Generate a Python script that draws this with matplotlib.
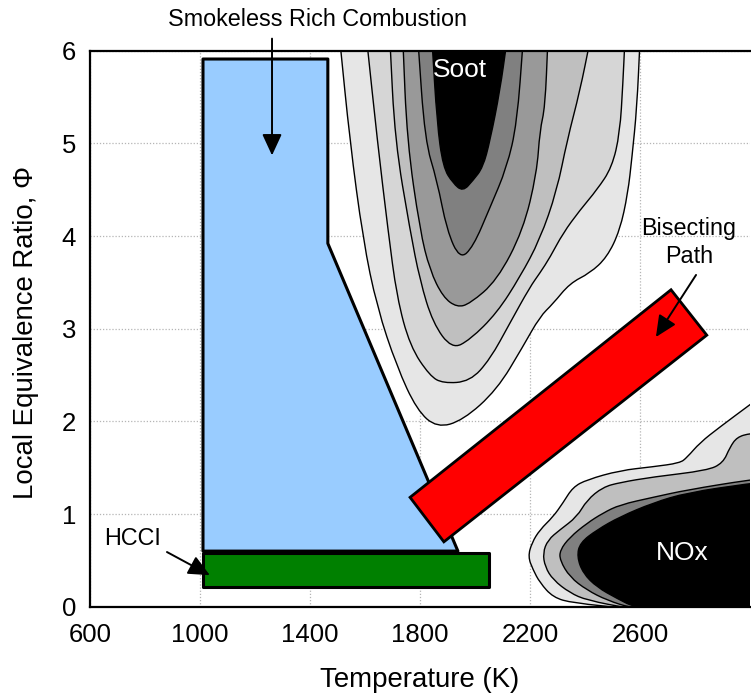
"""
Combustion regimes in the temperature / equivalence-ratio plane.
"""
import matplotlib.pyplot as plt
from matplotlib.path import Path
from matplotlib.patches import PathPatch

plt.rcParams['font.family'] = ['Liberation Sans', 'DejaVu Sans']

# Soot island contours, outermost to innermost (T in K, local phi)
soot_1_T = [1509, 1545, 1593, 1644, 1716, 1789, 1862, 1956, 2080, 2175,
            2236, 2284, 2345, 2418, 2480, 2527, 2556, 2571, 2589, 2600]
soot_1_phi = [6.1, 5.03, 3.96, 3.23, 2.59, 2.12, 1.93, 2.01, 2.34, 2.81,
              3.13, 3.27, 3.49, 3.60, 3.77, 4.06, 4.46, 4.85, 5.39, 6.1]
soot_2_T = [1607, 1645, 1684, 1716, 1764, 1836, 1884, 1982, 2055, 2127,
            2200, 2236, 2273, 2320, 2382, 2444, 2498, 2527, 2538, 2545]
soot_2_phi = [6.1, 5.03, 4.06, 3.34, 2.81, 2.49, 2.41, 2.43, 2.67, 3.06,
              3.45, 3.60, 3.77, 4.03, 4.28, 4.50, 4.74, 5.11, 5.65, 6.1]
soot_3_T = [1691, 1709, 1764, 1800, 1847, 1916, 1982, 2080, 2164, 2236,
            2298, 2335, 2382, 2418]
soot_3_phi = [6.1, 5.03, 4.06, 3.52, 3.06, 2.78, 2.88, 3.17, 3.56, 3.96,
              4.49, 5.03, 5.57, 6.1]
soot_4_T = [1738, 1753, 1800, 1836, 1884, 1935, 1982, 2080, 2175, 2225,
            2236, 2255, 2265]
soot_4_phi = [6.1, 5.03, 4.06, 3.63, 3.34, 3.23, 3.27, 3.52, 4.06, 4.68,
              5.14, 5.39, 6.1]
soot_5_T = [1793, 1818, 1862, 1898, 1945, 1993, 2055, 2116, 2153, 2175]
soot_5_phi = [6.1, 5.03, 4.60, 4.06, 3.75, 3.88, 4.31, 4.74, 5.22, 6.1]
soot_6_T = [1844, 1862, 1884, 1920, 1956, 1993, 2029, 2055, 2091, 2116]
soot_6_phi = [6.1, 5.22, 4.74, 4.57, 4.48, 4.60, 4.74, 5.03, 5.57, 6.1]

# NOx contours, outermost to innermost
nox_1_T = [3100, 3000, 2891, 2818, 2771, 2745, 2647, 2527, 2407, 2356, 2320,
           2284, 2236, 2207, 2193, 2211, 2236, 2284, 2356, 2564, 3100]
nox_1_phi = [2.4, 2.18, 1.94, 1.77, 1.61, 1.55, 1.51, 1.47, 1.37, 1.29, 1.12,
             0.97, 0.83, 0.69, 0.54, 0.40, 0.26, 0.10, 0.04, -0.02, -0.3]
nox_2_T = [3100, 3000, 2953, 2927, 2902, 2844, 2647, 2527, 2465, 2407,
           2371, 2309, 2265, 2247, 2255, 2284, 2345, 2407, 2564, 3100]
nox_2_phi = [1.9, 1.87, 1.83, 1.72, 1.55, 1.47, 1.40, 1.34, 1.29, 1.15,
             0.97, 0.83, 0.72, 0.58, 0.43, 0.29, 0.15, 0.07, -0.02, -0.3]
nox_3_T = [3100, 3000, 2771, 2647, 2527, 2465, 2407, 2345, 2309, 2309,
           2345, 2407, 2480, 2575, 3100]
nox_3_phi = [1.4, 1.37, 1.26, 1.18, 1.10, 1.01, 0.90, 0.75, 0.61, 0.50,
             0.32, 0.18, 0.07, -0.02, -0.3]
nox_4_T = [3100, 3000, 2771, 2647, 2527, 2444, 2382, 2371, 2393, 2444,
           2516, 2589, 3100]
nox_4_phi = [1.36, 1.33, 1.23, 1.12, 0.97, 0.83, 0.69, 0.54, 0.36, 0.21,
             0.09, -0.02, -0.3]

# Combustion regime regions
rich_T = [1011, 1011, 1465, 1465, 1938]
rich_phi = [0.6, 5.91, 5.91, 3.92, 0.6]
hcci_T = [1011, 1011, 2051, 2051]
hcci_phi = [0.21, 0.58, 0.58, 0.21]
path_T = [1764, 2713, 2843, 1887]
path_phi = [1.18, 3.42, 2.93, 0.70]

x_ticks = [600, 1000, 1400, 1800, 2200, 2600]
y_ticks = [0, 1, 2, 3, 4, 5, 6]

soot_levels = [(soot_1_T, soot_1_phi, '#e6e6e6'),
               (soot_2_T, soot_2_phi, '#d6d6d6'),
               (soot_3_T, soot_3_phi, '#bfbfbf'),
               (soot_4_T, soot_4_phi, '#999999'),
               (soot_5_T, soot_5_phi, '#808080'),
               (soot_6_T, soot_6_phi, '#000000')]
nox_levels = [(nox_1_T, nox_1_phi, '#e6e6e6'),
              (nox_2_T, nox_2_phi, '#bfbfbf'),
              (nox_3_T, nox_3_phi, '#808080'),
              (nox_4_T, nox_4_phi, '#000000')]


def contour_patch(T, phi, shade):
    """
    Patch through the read contour points. Interior points are joined with
    quadratic curves between segment midpoints so the outline looks smooth;
    the first and last points (outside the axes) stay sharp corners.
    """
    pts = list(zip(T, phi))
    n = len(pts)
    mids = [((pts[i][0] + pts[i + 1][0]) / 2,
             (pts[i][1] + pts[i + 1][1]) / 2) for i in range(n - 1)]
    verts = [pts[0], mids[0]]
    codes = [Path.MOVETO, Path.LINETO]
    for i in range(1, n - 1):
        verts += [pts[i], mids[i]]
        codes += [Path.CURVE3, Path.CURVE3]
    verts += [pts[-1], pts[0]]
    codes += [Path.LINETO, Path.CLOSEPOLY]
    return PathPatch(Path(verts, codes), facecolor=shade, edgecolor='black',
                     lw=1.0, zorder=2)


fig = plt.figure(figsize=(7.51, 6.98), dpi=100)
ax = fig.add_axes([0.1198, 0.1308, 0.8788, 0.7966])

for T, phi, shade in soot_levels + nox_levels:
    ax.add_patch(contour_patch(T, phi, shade))

ax.fill(rich_T, rich_phi, facecolor='#99ccff', edgecolor='black', lw=2.2,
        joinstyle='round', zorder=3)
ax.fill(hcci_T, hcci_phi, facecolor='#008000', edgecolor='black', lw=2.2,
        joinstyle='round', zorder=4)
ax.fill(path_T, path_phi, facecolor='#ff0000', edgecolor='black', lw=2.0,
        zorder=4)

# Labels and arrows
arrow = dict(arrowstyle='-|>,head_length=0.65,head_width=0.3',
             mutation_scale=20, color='black', lw=1.4, shrinkA=0, shrinkB=0)
ax.text(1429, 6.34, 'Smokeless Rich Combustion', fontsize=16.8,
        ha='center', va='center')
ax.annotate('', xy=(1262, 4.87), xytext=(1262, 6.13), arrowprops=arrow,
            zorder=6, annotation_clip=False)
ax.text(756, 0.74, 'HCCI', fontsize=16.8, ha='center', va='center')
ax.annotate('', xy=(1036, 0.34), xytext=(880, 0.59), arrowprops=arrow,
            zorder=6)
ax.text(2778, 3.93, 'Bisecting\nPath', fontsize=16.8, ha='center',
        va='center', linespacing=1.25)
ax.annotate('', xy=(2658, 2.91), xytext=(2804, 3.58), arrowprops=arrow,
            zorder=6)
ax.text(1945, 5.79, 'Soot', fontsize=19, color='white', ha='center',
        va='center', zorder=5)
ax.text(2752, 0.58, 'NOx', fontsize=19, color='white', ha='center',
        va='center', zorder=5)

# Axes
ax.set_xlim(600, 3000)
ax.set_ylim(0, 6)
ax.set_xticks(x_ticks)
ax.set_yticks(y_ticks)
ax.tick_params(length=0, labelsize=18.5)
ax.tick_params(axis='x', pad=12)
ax.tick_params(axis='y', pad=10)
ax.grid(True, linestyle=(0, (1, 1.5)), color='#b5b5b5', lw=0.9)
ax.set_axisbelow(True)
for side in ['top', 'left', 'bottom']:
    ax.spines[side].set_linewidth(1.6)
ax.spines['right'].set_visible(False)

ax.set_xlabel('Temperature (K)', fontsize=19.9)
ax.set_ylabel('Local Equivalence Ratio, \u03a6', fontsize=19.9)
ax.xaxis.set_label_coords(0.5, -0.1085)
ax.yaxis.set_label_coords(-0.077, 0.494)

fig.savefig('out.png', dpi=100)
